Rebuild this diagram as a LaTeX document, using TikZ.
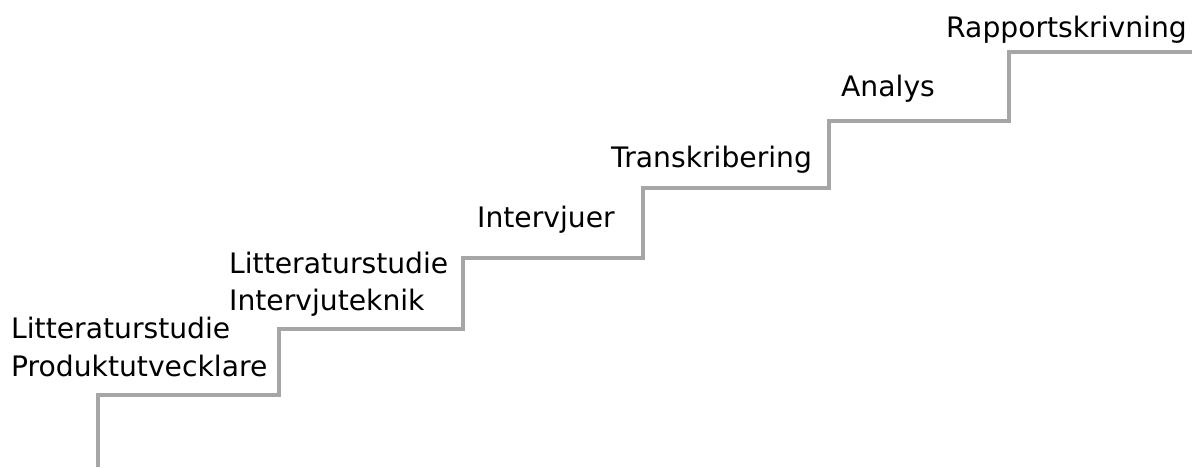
\documentclass[tikz,border=0pt]{standalone}
\usepackage{fontspec}
\setmainfont{DejaVu Sans}
\definecolor{stairgray}{HTML}{A6A6A6}
\begin{document}
\begin{tikzpicture}[x=1pt,y=-1pt,
  stair/.style={draw=stairgray,line width=4pt,line join=miter},
  steplabel/.style={anchor=base west,inner sep=0pt,text=black,
    font=\fontsize{28.2}{37}\selectfont}]
\useasboundingbox (0,0) rectangle (1192,467);
% corner points of the staircase
\coordinate (s0) at (98,467);
\coordinate (c1) at (98,395);
\coordinate (c2) at (279,395);
\coordinate (c3) at (279,329);
\coordinate (c4) at (463,329);
\coordinate (c5) at (463,258);
\coordinate (c6) at (643,258);
\coordinate (c7) at (643,188);
\coordinate (c8) at (829,188);
\coordinate (c9) at (829,121);
\coordinate (c10) at (1009,121);
\coordinate (c11) at (1009,52);
\coordinate (s1) at (1192,52);
\draw[stair] (s0) -- (c1) -- (c2) -- (c3) -- (c4) -- (c5) -- (c6)
  -- (c7) -- (c8) -- (c9) -- (c10) -- (c11) -- (s1);
% labels on the steps
\node[steplabel] (l1a) at (11,338) {Litteraturstudie};
\node[steplabel] (l1b) at (11,376) {Produktutvecklare};
\node[steplabel] (l2a) at (229,273) {Litteraturstudie};
\node[steplabel] (l2b) at (229,310) {Intervjuteknik};
\node[steplabel] (l3) at (477,227) {Intervjuer};
\node[steplabel] (l4) at (611,167) {Transkribering};
\node[steplabel] (l5) at (841,96) {Analys};
\node[steplabel] (l6) at (946,37) {Rapportskrivning};
\end{tikzpicture}
\end{document}
